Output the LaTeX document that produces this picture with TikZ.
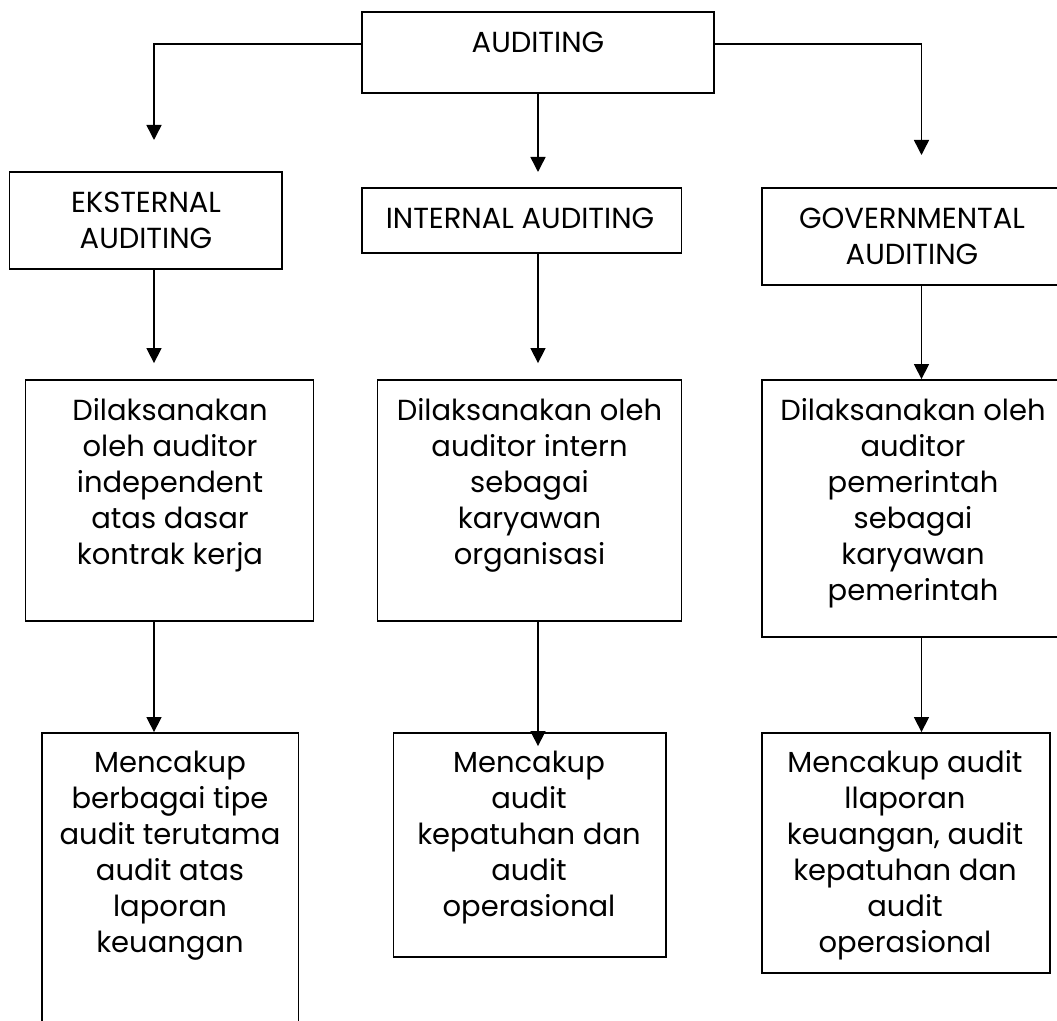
\documentclass[tikz,border=0pt]{standalone}
\usepackage{fontspec}
\setmainfont{Poppins}
\usetikzlibrary{fit,arrows.meta}
\begin{document}
\begin{tikzpicture}[x=0.5pt,y=-0.5pt,
  box/.style={draw,line width=0.9pt,inner sep=0pt},
  txt/.style={anchor=base,align=center,inner sep=0pt,font=\fontsize{14.5}{18}\selectfont},
  arr/.style={line width=0.75pt,-{Triangle[length=7.5pt,width=7.5pt]}}]
\useasboundingbox (0,0) rectangle (1057,1021);
% boxes
\node[box,fit={(362,12) (714,93)}] (aud) {};
\node[box,fit={(9.5,172) (282,269)}] (eks) {};
\node[box,fit={(362,188) (681.5,253)}] (int) {};
\node[box,fit={(762,188) (1062,285)}] (gov) {};
\node[box,fit={(25.5,380) (313.5,621)}] (eksB) {};
\node[box,fit={(377.5,380) (681.5,621)}] (intB) {};
\node[box,fit={(762,380) (1062,637)}] (govB) {};
\node[box,fit={(42,733) (298.5,1030)}] (eksC) {};
\node[box,fit={(393.5,733) (666,957)}] (intC) {};
\node[box,fit={(762,733) (1050,973)}] (govC) {};
% texts (anchored at the baseline of the last line)
\node[txt] (audT) at (538,53) {AUDITING};
\node[txt] (eksT) at (146,249) {EKSTERNAL\\AUDITING};
\node[txt] (intT) at (520,229) {INTERNAL AUDITING};
\node[txt] (govT) at (912,265) {GOVERNMENTAL\\AUDITING};
\node[txt] (eksBT) at (170,565) {Dilaksanakan\\oleh auditor\\independent\\atas dasar\\kontrak kerja};
\node[txt] (intBT) at (529.5,565) {Dilaksanakan oleh\\auditor intern\\sebagai\\karyawan\\organisasi};
\node[txt] (govBT) at (913,601) {Dilaksanakan oleh\\auditor\\pemerintah\\sebagai\\karyawan\\pemerintah};
\node[txt] (eksCT) at (170,953) {Mencakup\\berbagai tipe\\audit terutama\\audit atas\\laporan\\keuangan};
\node[txt] (intCT) at (529,917) {Mencakup\\audit\\kepatuhan dan\\audit\\operasional};
\node[txt] (govCT) at (905,953) {Mencakup audit\\llaporan\\keuangan, audit\\kepatuhan dan\\audit\\operasional};
% connector coordinates
\coordinate (hy) at (0,44);
\coordinate (cL) at (154,0);
\coordinate (cM) at (538,0);
\coordinate (cR) at (921.5,0);
\coordinate (tL) at (154,140);
\coordinate (tM) at (538,172);
\coordinate (tR) at (921.5,155);
% connectors
\draw[arr] (aud.west |- hy) -| (tL);
\draw[arr] (aud.east |- hy) -| (tR);
\draw[arr] (aud.south -| cM) -- (tM);
\draw[arr,shorten >=8pt] (eks.south -| cL) -- (eksB.north -| cL);
\draw[arr,shorten >=8pt] (int.south -| cM) -- (intB.north -| cM);
\draw[arr] (gov.south -| cR) -- (govB.north -| cR);
\draw[arr] (eksB.south -| cL) -- (eksC.north -| cL);
\draw[arr,shorten >=-7pt] (intB.south -| cM) -- (intC.north -| cM);
\draw[arr] (govB.south -| cR) -- (govC.north -| cR);
\end{tikzpicture}
\end{document}
